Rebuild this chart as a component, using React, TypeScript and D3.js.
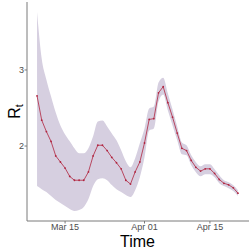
import React from "react";
import * as d3 from "d3";

const startDate = "2020-03-09";
const rtMean = [2.66, 2.34, 2.19, 2.06, 1.87, 1.79, 1.71, 1.60, 1.55, 1.55, 1.55, 1.66, 1.87, 2.01, 2.01, 1.94, 1.85, 1.78, 1.70, 1.55, 1.50, 1.66, 1.79, 2.04, 2.35, 2.36, 2.70, 2.78, 2.57, 2.38, 2.17, 1.97, 1.94, 1.81, 1.72, 1.67, 1.70, 1.70, 1.64, 1.56, 1.51, 1.49, 1.45, 1.38];
const rtUpper = [3.763, 3.148, 2.873, 2.651, 2.441, 2.271, 2.153, 2.062, 1.970, 1.904, 1.904, 1.970, 2.127, 2.323, 2.336, 2.258, 2.166, 2.075, 1.944, 1.800, 1.721, 1.839, 2.035, 2.232, 2.493, 2.520, 2.834, 2.899, 2.690, 2.480, 2.258, 2.048, 2.009, 1.878, 1.787, 1.734, 1.760, 1.760, 1.695, 1.616, 1.551, 1.525, 1.485, 1.420];
const rtLower = [1.473, 1.433, 1.394, 1.342, 1.289, 1.250, 1.211, 1.171, 1.145, 1.158, 1.198, 1.302, 1.473, 1.564, 1.577, 1.551, 1.486, 1.433, 1.394, 1.355, 1.329, 1.420, 1.590, 1.852, 2.205, 2.232, 2.585, 2.677, 2.467, 2.271, 2.075, 1.891, 1.878, 1.747, 1.656, 1.603, 1.630, 1.630, 1.590, 1.512, 1.473, 1.446, 1.407, 1.342];
const yTicks = [2, 3];
const xTickDates = ["2020-03-15", "2020-04-01", "2020-04-15"];
const xTickLabels = ["Mar 15", "Apr 01", "Apr 15"];

const W = 249, H = 249;
const left = 27, right = 248, top = 2, bottom = 221;
const FONT = "'Liberation Sans', Arial, Helvetica, sans-serif";

export default function App() {
  const t0 = new Date(startDate + "T00:00:00Z");
  const dates = rtMean.map((_, i) => d3.utcDay.offset(t0, i));
  const data = dates.map((d, i) => ({ d, m: rtMean[i], u: rtUpper[i], l: rtLower[i] }));

  const xExtent = d3.extent(dates) as [Date, Date];
  const span = (+xExtent[1] - +xExtent[0]) * 0.05;
  const x = d3.scaleUtc()
    .domain([new Date(+xExtent[0] - span), new Date(+xExtent[1] + span)])
    .range([left, right]);
  const yMin = d3.min(rtLower)!, yMax = d3.max(rtUpper)!;
  const yPad = (yMax - yMin) * 0.05;
  const y = d3.scaleLinear().domain([yMin - yPad, yMax + yPad]).range([bottom, top]);

  const area = d3.area<typeof data[0]>()
    .x(p => x(p.d)).y0(p => y(p.l)).y1(p => y(p.u))
    .curve(d3.curveMonotoneX);
  const line = d3.line<typeof data[0]>().x(p => x(p.d)).y(p => y(p.m));

  const axisColor = "#7a7a7a";
  const tickText = "#4d4d4d";
  const lineColor = "#b0243f";

  return (
    <svg width={W} height={H} style={{ position: "absolute", left: 0, top: 0, background: "#fff" }}>
      <path d={area(data)!} fill="#d6cfe0" stroke="none" />
      <path d={line(data)!} fill="none" stroke={lineColor} strokeWidth={0.8} />
      {data.map((p, i) => (
        <circle key={i} cx={x(p.d)} cy={y(p.m)} r={0.9} fill={lineColor} />
      ))}
      {/* axes */}
      <line x1={left} x2={left} y1={top} y2={bottom} stroke={axisColor} strokeWidth={1} />
      <line x1={left} x2={W} y1={bottom} y2={bottom} stroke={axisColor} strokeWidth={1} />
      {yTicks.map(v => (
        <g key={v}>
          <line x1={left - 2.5} x2={left} y1={y(v)} y2={y(v)} stroke={axisColor} strokeWidth={1} />
          <text x={left - 3} y={y(v)} dy="0.35em" textAnchor="end" fontFamily={FONT} fontSize={9} fill={tickText}>{v}</text>
        </g>
      ))}
      {xTickDates.map((s, i) => {
        const xv = x(new Date(s + "T00:00:00Z"));
        return (
          <g key={s}>
            <line x1={xv} x2={xv} y1={bottom} y2={bottom + 2.5} stroke={axisColor} strokeWidth={1} />
            <text x={xv} y={bottom + 8.5} textAnchor="middle" fontFamily={FONT} fontSize={9} fill={tickText}>{xTickLabels[i]}</text>
          </g>
        );
      })}
      <text x={(left + right) / 2} y={246.5} textAnchor="middle" fontFamily={FONT} fontSize={16} fill="#000">Time</text>
      <text transform={`translate(19.5, ${(top + bottom) / 2}) rotate(-90)`} textAnchor="middle" fontFamily={FONT} fontSize={16} fill="#000">
        R<tspan fontSize={11} dy={3}>t</tspan>
      </text>
    </svg>
  );
}
